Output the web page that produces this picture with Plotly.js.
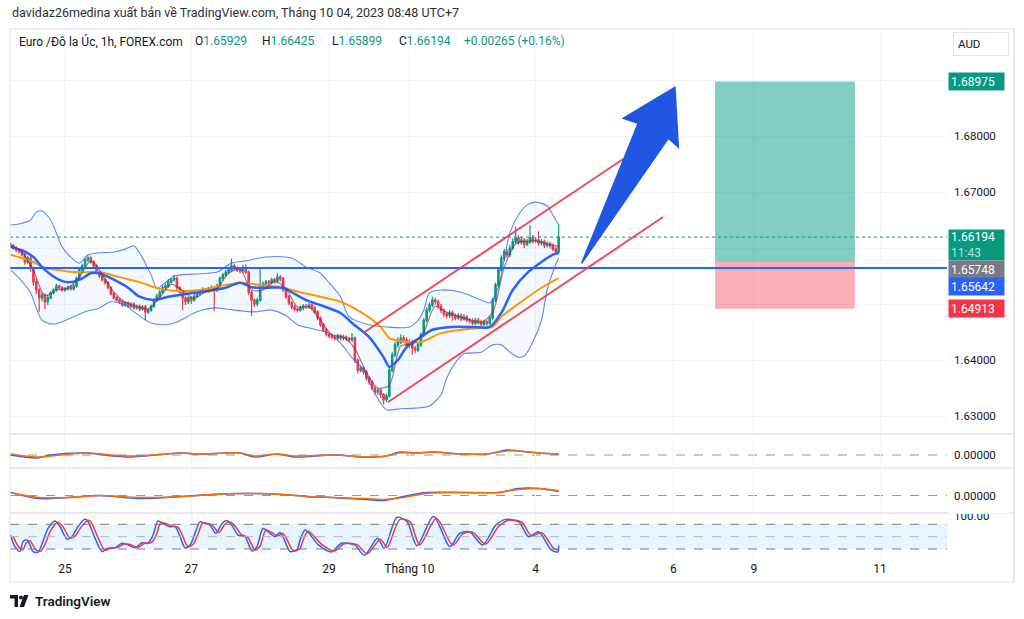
<!DOCTYPE html>
<html><head><meta charset="utf-8">
<script src="https://cdn.plot.ly/plotly-3.0.1.min.js"></script>
<style>html,body{margin:0;padding:0;background:#fff;}#chart{width:1024px;height:619px;}</style>
</head><body><div id="chart"></div>
<script>
// ---------- DATA (EUR/AUD 1h, FOREX.com) ----------
const tickIdx = [19, 63, 111, 139, 183, 231, 259, 303];
const tickText = ['25', '27', '29', 'Tháng 10', '4', '6', '9', '11'];
const priceTicks = [1.63, 1.64, 1.65, 1.66, 1.67, 1.68, 1.69];
const priceTickText = ['1.63000', '1.64000', '', '', '1.67000', '1.68000', ''];

const openP = [1.6607,1.6604,1.6600,1.6596,1.6593,1.6588,1.6575,1.6582,1.6564,1.6539,1.6525,1.6511,
1.6516,1.6504,1.6511,1.6520,1.6525,1.6532,1.6529,1.6525,1.6527,1.6530,1.6527,1.6532,
1.6546,1.6561,1.6568,1.6579,1.6582,1.6575,1.6568,1.6557,1.6550,1.6543,1.6538,1.6529,
1.6518,1.6511,1.6507,1.6504,1.6498,1.6502,1.6496,1.6500,1.6493,1.6496,1.6491,1.6495,
1.6486,1.6489,1.6496,1.6507,1.6514,1.6521,1.6529,1.6532,1.6539,1.6543,1.6546,1.6529,
1.6521,1.6511,1.6504,1.6511,1.6507,1.6514,1.6518,1.6521,1.6525,1.6523,1.6527,1.6529,
1.6525,1.6532,1.6546,1.6552,1.6557,1.6561,1.6568,1.6564,1.6561,1.6559,1.6564,1.6557,
1.6521,1.6507,1.6500,1.6507,1.6529,1.6536,1.6539,1.6538,1.6543,1.6541,1.6548,1.6545,
1.6525,1.6513,1.6502,1.6495,1.6491,1.6489,1.6493,1.6496,1.6495,1.6498,1.6493,1.6486,
1.6475,1.6463,1.6454,1.6446,1.6443,1.6441,1.6439,1.6443,1.6439,1.6441,1.6438,1.6436,
1.6439,1.6400,1.6382,1.6386,1.6379,1.6368,1.6361,1.6350,1.6343,1.6346,1.6338,1.6329,
1.6336,1.6382,1.6409,1.6427,1.6432,1.6439,1.6436,1.6427,1.6432,1.6421,1.6418,1.6427,
1.6445,1.6471,1.6489,1.6498,1.6507,1.6504,1.6496,1.6489,1.6482,1.6479,1.6484,1.6479,
1.6475,1.6479,1.6473,1.6477,1.6471,1.6470,1.6466,1.6471,1.6468,1.6464,1.6468,1.6466,
1.6475,1.6507,1.6534,1.6561,1.6582,1.6593,1.6588,1.6600,1.6611,1.6618,1.6611,1.6614,
1.6607,1.6611,1.6618,1.6613,1.6614,1.6609,1.6611,1.6605,1.6607,1.6604,1.6598,1.65929];

const highP = [1.6610,1.6607,1.6603,1.6599,1.6596,1.6591,1.6586,1.6585,1.6567,1.6545,1.6528,1.6520,
1.6519,1.6516,1.6523,1.6528,1.6536,1.6535,1.6532,1.6531,1.6533,1.6534,1.6536,1.6549,
1.6565,1.6572,1.6583,1.6587,1.6585,1.6578,1.6571,1.6560,1.6553,1.6546,1.6541,1.6532,
1.6521,1.6514,1.6510,1.6507,1.6505,1.6505,1.6503,1.6503,1.6499,1.6499,1.6498,1.6498,
1.6492,1.6499,1.6510,1.6518,1.6525,1.6533,1.6536,1.6545,1.6547,1.6552,1.6549,1.6532,
1.6524,1.6514,1.6514,1.6514,1.6518,1.6522,1.6525,1.6530,1.6528,1.6531,1.6533,1.6532,
1.6536,1.6549,1.6556,1.6561,1.6566,1.6581,1.6572,1.6567,1.6565,1.6570,1.6571,1.6560,
1.6524,1.6510,1.6511,1.6566,1.6540,1.6543,1.6543,1.6547,1.6547,1.6555,1.6552,1.6548,
1.6528,1.6516,1.6505,1.6498,1.6494,1.6497,1.6500,1.6500,1.6502,1.6501,1.6496,1.6489,
1.6478,1.6466,1.6457,1.6449,1.6447,1.6445,1.6447,1.6446,1.6445,1.6444,1.6441,1.6448,
1.6442,1.6403,1.6390,1.6389,1.6382,1.6371,1.6364,1.6353,1.6350,1.6349,1.6341,1.6340,
1.6386,1.6414,1.6432,1.6440,1.6446,1.6444,1.6440,1.6437,1.6436,1.6425,1.6431,1.6449,
1.6475,1.6494,1.6503,1.6513,1.6511,1.6508,1.6500,1.6492,1.6486,1.6489,1.6488,1.6483,
1.6484,1.6483,1.6482,1.6480,1.6475,1.6474,1.6475,1.6475,1.6472,1.6472,1.6471,1.6479,
1.6511,1.6538,1.6566,1.6587,1.6598,1.6598,1.6606,1.6617,1.6638,1.6623,1.6620,1.6618,
1.6616,1.6641,1.6623,1.6619,1.6630,1.6616,1.6615,1.6612,1.6611,1.6608,1.6602,1.66425];

const lowP = [1.6601,1.6597,1.6593,1.6590,1.6585,1.6570,1.6572,1.6558,1.6532,1.6518,1.6486,1.6505,
1.6490,1.6498,1.6508,1.6517,1.6522,1.6526,1.6522,1.6522,1.6524,1.6524,1.6524,1.6529,
1.6543,1.6558,1.6565,1.6575,1.6572,1.6565,1.6554,1.6547,1.6540,1.6535,1.6526,1.6515,
1.6508,1.6504,1.6500,1.6495,1.6495,1.6493,1.6493,1.6490,1.6490,1.6487,1.6488,1.6471,
1.6482,1.6486,1.6493,1.6504,1.6511,1.6518,1.6526,1.6529,1.6536,1.6540,1.6525,1.6515,
1.6489,1.6498,1.6500,1.6500,1.6504,1.6511,1.6515,1.6518,1.6520,1.6520,1.6524,1.6487,
1.6521,1.6529,1.6542,1.6548,1.6553,1.6558,1.6560,1.6557,1.6555,1.6556,1.6553,1.6516,
1.6478,1.6494,1.6496,1.6504,1.6525,1.6532,1.6534,1.6535,1.6537,1.6538,1.6541,1.6521,
1.6509,1.6498,1.6490,1.6487,1.6485,1.6486,1.6489,1.6491,1.6491,1.6489,1.6482,1.6471,
1.6459,1.6450,1.6442,1.6439,1.6437,1.6435,1.6435,1.6435,1.6435,1.6434,1.6432,1.6432,
1.6394,1.6376,1.6378,1.6374,1.6363,1.6356,1.6346,1.6338,1.6338,1.6332,1.6321,1.6325,
1.6333,1.6378,1.6405,1.6422,1.6428,1.6431,1.6422,1.6422,1.6410,1.6412,1.6414,1.6423,
1.6441,1.6467,1.6485,1.6494,1.6499,1.6492,1.6484,1.6477,1.6474,1.6475,1.6470,1.6471,
1.6472,1.6469,1.6470,1.6467,1.6465,1.6462,1.6462,1.6464,1.6460,1.6460,1.6461,1.6462,
1.6471,1.6503,1.6530,1.6557,1.6577,1.6583,1.6584,1.6596,1.6607,1.6606,1.6606,1.6600,
1.6603,1.6607,1.6608,1.6609,1.6604,1.6604,1.6600,1.6601,1.6599,1.6594,1.6588,1.65899];

const closeP = [1.6604,1.6600,1.6596,1.6593,1.6588,1.6575,1.6582,1.6564,1.6539,1.6525,1.6511,1.6516,
1.6504,1.6511,1.6520,1.6525,1.6532,1.6529,1.6525,1.6527,1.6530,1.6527,1.6532,1.6546,
1.6561,1.6568,1.6579,1.6582,1.6575,1.6568,1.6557,1.6550,1.6543,1.6538,1.6529,1.6518,
1.6511,1.6507,1.6504,1.6498,1.6502,1.6496,1.6500,1.6493,1.6496,1.6491,1.6495,1.6486,
1.6489,1.6496,1.6507,1.6514,1.6521,1.6529,1.6532,1.6539,1.6543,1.6546,1.6529,1.6521,
1.6511,1.6504,1.6511,1.6507,1.6514,1.6518,1.6521,1.6525,1.6523,1.6527,1.6529,1.6525,
1.6532,1.6546,1.6552,1.6557,1.6561,1.6568,1.6564,1.6561,1.6559,1.6564,1.6557,1.6521,
1.6507,1.6500,1.6507,1.6529,1.6536,1.6539,1.6538,1.6543,1.6541,1.6548,1.6545,1.6525,
1.6513,1.6502,1.6495,1.6491,1.6489,1.6493,1.6496,1.6495,1.6498,1.6493,1.6486,1.6475,
1.6463,1.6454,1.6446,1.6443,1.6441,1.6439,1.6443,1.6439,1.6441,1.6438,1.6436,1.6439,
1.6400,1.6382,1.6386,1.6379,1.6368,1.6361,1.6350,1.6343,1.6346,1.6338,1.6329,1.6336,
1.6382,1.6409,1.6427,1.6432,1.6439,1.6436,1.6427,1.6432,1.6421,1.6418,1.6427,1.6445,
1.6471,1.6489,1.6498,1.6507,1.6504,1.6496,1.6489,1.6482,1.6479,1.6484,1.6479,1.6475,
1.6479,1.6473,1.6477,1.6471,1.6470,1.6466,1.6471,1.6468,1.6464,1.6468,1.6466,1.6475,
1.6507,1.6534,1.6561,1.6582,1.6593,1.6588,1.6600,1.6611,1.6618,1.6611,1.6614,1.6607,
1.6611,1.6618,1.6613,1.6614,1.6609,1.6611,1.6605,1.6607,1.6604,1.6598,1.65929,1.66194];

// Bollinger Bands (bar index, price)
const bbUpperX = [0,3,7,9,11,14,16,18,21,24,27,30,36,40,43,45,49,51,54,57,66,72,77,82,89,98,103,108,111,115,118,125,131,139,142,144,146,150,157,164,167,170,172,174,177,180,183,187,189,191];
const bbUpperY = [1.6641,1.6643,1.6650,1.6664,1.6666,1.6650,1.6627,1.6602,1.6584,1.6573,1.6588,1.6591,1.6593,1.6598,1.6604,1.6591,1.6552,1.6529,1.6538,1.6550,1.6554,1.6557,1.6573,1.6577,1.6584,1.6582,1.6566,1.6555,1.6538,1.6513,1.6477,1.6463,1.6459,1.6459,1.6471,1.6489,1.6520,1.6525,1.6521,1.6507,1.6502,1.6530,1.6579,1.6627,1.6659,1.6677,1.6682,1.6675,1.6659,1.6641];
const bbLowerX = [0,3,7,9,11,15,21,26,31,35,40,43,49,54,58,65,71,78,85,91,96,100,106,111,115,119,123,126,129,131,136,141,146,150,152,155,158,164,168,171,174,177,179,182,185,187,190,191];
const bbLowerY = [1.6561,1.6546,1.6520,1.6493,1.6471,1.6464,1.6475,1.6486,1.6493,1.6504,1.6498,1.6486,1.6466,1.6463,1.6468,1.6486,1.6493,1.6489,1.6486,1.6489,1.6479,1.6463,1.6455,1.6448,1.6430,1.6404,1.6382,1.6350,1.6323,1.6311,1.6313,1.6314,1.6318,1.6338,1.6368,1.6395,1.6411,1.6414,1.6427,1.6427,1.6414,1.6405,1.6407,1.6432,1.6471,1.6525,1.6571,1.6582];
const basisX = [0,4,8,11,16,20,24,28,31,35,41,45,50,55,59,64,71,75,80,84,89,95,98,103,108,115,119,125,130,132,135,138,143,147,154,161,167,171,175,180,185,189,191];
const basisY = [1.6602,1.6596,1.6584,1.6566,1.6546,1.6539,1.6543,1.6555,1.6555,1.6546,1.6529,1.6513,1.6507,1.6513,1.6516,1.6520,1.6525,1.6529,1.6538,1.6530,1.6529,1.6529,1.6521,1.6507,1.6498,1.6484,1.6466,1.6441,1.6405,1.6388,1.6400,1.6423,1.6441,1.6454,1.6459,1.6459,1.6459,1.6484,1.6525,1.6555,1.6575,1.6588,1.6591];
// Slow moving average (orange)
const slowX = [0,4,8,11,16,22,28,31,38,45,52,59,66,73,80,87,94,101,108,115,122,129,132,136,143,150,157,164,168,171,178,185,191];
const slowY = [1.6588,1.6582,1.6575,1.6566,1.6561,1.6557,1.6557,1.6557,1.6548,1.6539,1.6527,1.6523,1.6525,1.6532,1.6538,1.6534,1.6530,1.6521,1.6513,1.6504,1.6486,1.6459,1.6439,1.6434,1.6432,1.6448,1.6454,1.6457,1.6459,1.6477,1.6504,1.6529,1.6546];
// Fast moving average (dark red)
const fastX = [0,4,8,12,16,20,24,28,32,36,40,44,48,52,56,60,64,68,72,76,80,84,88,92,96,100,104,108,112,116,120,124,128,132,136,140,144,148,152,156,160,164,168,172,176,180,184,188,191];
const fastY = [1.6605,1.6593,1.6560,1.6515,1.6525,1.6528,1.6548,1.6577,1.6553,1.6521,1.6503,1.6496,1.6491,1.6512,1.6535,1.6524,1.6510,1.6522,1.6528,1.6555,1.6562,1.6525,1.6525,1.6540,1.6527,1.6495,1.6495,1.6472,1.6445,1.6441,1.6420,1.6378,1.6350,1.6355,1.6425,1.6428,1.6450,1.6496,1.6485,1.6478,1.6472,1.6467,1.6485,1.6565,1.6607,1.6612,1.6612,1.6606,1.6603];

// Pane 2 oscillator
const osc1X = [0,9,14,26,36,41,54,59,66,80,85,93,99,113,123,131,135.5,142,147,157,166,173,177,184,191];
const osc1A = [0,-0.0003,0,0.0002,-0.0001,-0.0002,0.0001,0.0002,0.0001,0.0002,-0.0002,0.0001,-0.0002,0,-0.0002,-0.0001,0.0003,0.0002,0.0003,0.0001,0.0001,0.0005,0.0004,0.0002,0.0001];
const osc1B = [0.0001,-0.0002,-0.0001,0.0002,0,-0.0001,0.0001,0.0002,0.0001,0.0002,-0.0001,0.0001,-0.0001,0,-0.0002,-0.0001,0.0002,0.0002,0.0003,0.0001,0.0001,0.0004,0.0004,0.0002,0.0001];
// Pane 3 oscillator
const osc2X = [0,10,20,31,45,60,70,81,95,103,112,124,130,137,145,157,170,177,184,191];
const osc2A = [0.0003,-0.0003,-0.0002,0,-0.0003,-0.0001,0.0001,0.0002,0.0001,-0.0001,-0.0002,-0.0004,-0.0005,-0.0001,0.0003,0.0003,0.0003,0.0007,0.0007,0.0004];
const osc2B = [0.0003,-0.0002,-0.0002,0,-0.0002,-0.0001,0.0001,0.0002,0.0001,-0.0001,-0.0002,-0.0003,-0.0004,-0.0002,0.0002,0.0003,0.0003,0.0006,0.0007,0.0005];
// Stochastic RSI
const stochKX = [0,1.6,3.3,4.4,5.8,6.8,7.8,9.6,11.3,13.1,15.5,17.3,19.7,21.4,23.5,26,27,29.5,31.9,34,36.4,38.9,41,43.4,45.8,47.9,49.7,51.4,53.1,55.6,57.3,59.1,60.8,62.6,64.3,66,67.8,69.5,71.6,73.7,75.4,77.5,79.3,81.7,84.2,85.9,88,90.4,92.2,93.9,95.7,97.4,99.8,100.9,102.7,107.3,111.9,115.3,119.9,123.3,127.9,130.2,134.7,138.2,141.6,147.4,153.1,156.5,160,164.5,169.1,172.5,177.1,180.5,184,188.5,190.8,191];
const stochK = [54,25,14,38,42,30,14,12,38,70,88,74,44,50,74,93,87,46,14,22,23,34,30,23,35,34,54,88,82,74,75,50,23,30,58,86,82,78,58,82,89,74,54,50,15,26,70,58,50,60,38,14,18,42,66,30,13,34,30,5,46,22,97,86,28,99,26,58,62,30,78,92,86,50,62,17,13,28];
const stochDX = [1,2.6,4.3,5.4,6.8,7.8,8.8,10.6,12.3,14.1,16.5,18.3,20.7,22.4,24.5,27,28,30.5,32.9,35,37.4,39.9,42,44.4,46.8,48.9,50.7,52.4,54.1,56.6,58.3,60.1,61.8,63.6,65.3,67,68.8,70.5,72.6,74.7,76.4,78.5,80.3,82.7,85.2,86.9,89,91.4,93.2,94.9,96.7,98.4,100.8,101.9,103.7,108.3,112.9,116.3,120.9,124.3,128.9,131.2,135.7,139.2,142.6,148.4,154.1,157.5,161,165.5,170.1,173.5,178.1,181.5,185,189.5,191];
const stochD = [50,28,18,34,40,30,18,15,36,66,85,74,47,51,72,90,86,48,17,22,24,33,30,24,34,35,52,84,82,75,73,50,26,31,56,83,82,77,60,80,86,74,56,48,18,26,66,58,52,58,38,17,20,40,63,32,15,33,30,8,44,24,92,86,30,95,29,56,61,32,75,90,85,52,60,20,18];

// Drawings (bar index, price)
const lastPrice = 1.66194, hLine = 1.65642;
const posEntry = 1.65748, posTarget = 1.68975, posStop = 1.64913, posX = [245.5, 294.2];
const chanUpper = [[122.9, 1.64482], [213.5, 1.67589]];
const chanLower = [[131.6, 1.63250], [227.4, 1.66554]];
const arrowPts = [[199.0,1.65727],[218.7,1.68227],[213.5,1.68316],[231.5,1.68870],[232.7,1.67798],[229.2,1.67959]];

// ---------- LAYOUT GEOMETRY ----------
const W = 1024, H = 619, ML = 10, MR = 77, MT = 29, MB = 59;
const PW = W - ML - MR, PH = H - MT - MB;
const px = x => (x - ML) / PW;
const py = y => (H - MB - y) / PH;
const FONT = 'Roboto, "Noto Sans", sans-serif';
const TXT = '#131722';
const idx = closeP.map((_, i) => i);

const line = (x, y, color, width, yaxis, extra) => Object.assign({
  type: 'scatter', mode: 'lines', x: x, y: y, yaxis: yaxis || 'y',
  line: {color: color, width: width, shape: 'spline', smoothing: 0.8},
  hoverinfo: 'skip', showlegend: false
}, extra || {});

const traces = [
  line(bbUpperX, bbUpperY, 'rgba(41,98,255,0.75)', 1.1),
  line(bbLowerX, bbLowerY, 'rgba(41,98,255,0.75)', 1.1, 'y', {fill: 'tonexty', fillcolor: 'rgba(33,150,243,0.055)'}),
  line(slowX, slowY, '#ff9800', 2),
  line(basisX, basisY, '#2962ff', 2.5),
  {
    type: 'candlestick', x: idx, open: openP, high: highP, low: lowP, close: closeP,
    increasing: {line: {color: '#089981', width: 1.2}, fillcolor: '#089981'},
    decreasing: {line: {color: '#f23645', width: 1.2}, fillcolor: '#f23645'},
    whiskerwidth: 0, hoverinfo: 'skip', showlegend: false
  },
  line(fastX, fastY, 'rgba(140,30,40,0.6)', 1.2),
  line(osc1X, osc1A, '#2962ff', 1.5, 'y2'),
  line(osc1X, osc1B, '#ff6d00', 1.5, 'y2'),
  line(osc2X, osc2A, '#2962ff', 1.5, 'y3'),
  line(osc2X, osc2B, '#ff6d00', 1.5, 'y3'),
  line(stochKX, stochK, '#2962ff', 1.5, 'y4'),
  line(stochDX, stochD, '#f23645', 1.5, 'y4')
];

const frame = '#e0e3eb';
const shapes = [
  {type: 'rect', xref: 'paper', yref: 'y4', x0: 0, x1: 1, y0: 20, y1: 80, fillcolor: 'rgba(33,150,243,0.1)', line: {width: 0}, layer: 'below'},
  {type: 'line', xref: 'paper', yref: 'y4', x0: 0, x1: 1, y0: 80, y1: 80, line: {color: '#787b86', width: 1, dash: 'dash'}},
  {type: 'line', xref: 'paper', yref: 'y4', x0: 0, x1: 1, y0: 50, y1: 50, line: {color: '#b2b5be', width: 1, dash: 'dash'}},
  {type: 'line', xref: 'paper', yref: 'y4', x0: 0, x1: 1, y0: 20, y1: 20, line: {color: '#787b86', width: 1, dash: 'dash'}},
  {type: 'line', xref: 'paper', yref: 'y2', x0: 0, x1: 1, y0: 0, y1: 0, line: {color: '#9598a1', width: 1, dash: 'dash'}, layer: 'below'},
  {type: 'line', xref: 'paper', yref: 'y3', x0: 0, x1: 1, y0: 0, y1: 0, line: {color: '#9598a1', width: 1, dash: 'dash'}, layer: 'below'},
  {type: 'rect', xref: 'x', yref: 'y', x0: posX[0], x1: posX[1], y0: posEntry, y1: posTarget, fillcolor: 'rgba(8,153,129,0.5)', line: {width: 0}},
  {type: 'rect', xref: 'x', yref: 'y', x0: posX[0], x1: posX[1], y0: posStop, y1: posEntry, fillcolor: 'rgba(242,54,69,0.4)', line: {width: 0}},
  {type: 'line', xref: 'paper', yref: 'y', x0: 0, x1: 1, y0: lastPrice, y1: lastPrice, line: {color: '#089981', width: 1, dash: 'dot'}},
  {type: 'line', xref: 'paper', yref: 'y', x0: 0, x1: 1, y0: hLine, y1: hLine, line: {color: '#2962ff', width: 2}},
  {type: 'line', xref: 'x', yref: 'y', x0: chanUpper[0][0], y0: chanUpper[0][1], x1: chanUpper[1][0], y1: chanUpper[1][1], line: {color: 'rgba(242,54,69,0.9)', width: 2}},
  {type: 'line', xref: 'x', yref: 'y', x0: chanLower[0][0], y0: chanLower[0][1], x1: chanLower[1][0], y1: chanLower[1][1], line: {color: 'rgba(242,54,69,0.9)', width: 2}},
  {type: 'path', xref: 'x', yref: 'y', path: 'M ' + arrowPts.map(p => p[0] + ',' + p[1]).join(' L ') + ' Z', fillcolor: '#2156e3', line: {color: '#2156e3', width: 1.5}},
  {type: 'line', xref: 'paper', yref: 'paper', x0: px(10), x1: px(1014), y0: py(29), y1: py(29), line: {color: frame, width: 1}},
  {type: 'line', xref: 'paper', yref: 'paper', x0: px(10), x1: px(1014), y0: py(434), y1: py(434), line: {color: frame, width: 1.5}},
  {type: 'line', xref: 'paper', yref: 'paper', x0: px(10), x1: px(1014), y0: py(468), y1: py(468), line: {color: frame, width: 1.5}},
  {type: 'line', xref: 'paper', yref: 'paper', x0: px(10), x1: px(1014), y0: py(513), y1: py(513), line: {color: frame, width: 1.5}},
  {type: 'line', xref: 'paper', yref: 'paper', x0: px(10), x1: px(1014), y0: py(582), y1: py(582), line: {color: frame, width: 1}},
  {type: 'line', xref: 'paper', yref: 'paper', x0: px(10), x1: px(10), y0: py(29), y1: py(582), line: {color: frame, width: 1}},
  {type: 'line', xref: 'paper', yref: 'paper', x0: px(1014), x1: px(1014), y0: py(29), y1: py(582), line: {color: frame, width: 1.5}},
  {type: 'path', xref: 'paper', yref: 'paper', path: `M ${px(10)},${py(595)} L ${px(18)},${py(595)} L ${px(18)},${py(607)} L ${px(14.5)},${py(607)} L ${px(14.5)},${py(598.5)} L ${px(10)},${py(598.5)} Z`, fillcolor: TXT, line: {width: 0}},
  {type: 'circle', xref: 'paper', yref: 'paper', x0: px(19), x1: px(23), y0: py(599.5), y1: py(595.5), fillcolor: TXT, line: {width: 0}},
  {type: 'path', xref: 'paper', yref: 'paper', path: `M ${px(19.5)},${py(607)} L ${px(24)},${py(595)} L ${px(28.5)},${py(595)} L ${px(24)},${py(607)} Z`, fillcolor: TXT, line: {width: 0}}
];

const green = '#089981';
const priceLabel = (val, txt, bg, shift, h) => ({
  xref: 'paper', yref: 'y', x: px(948), y: val, xanchor: 'left', yanchor: 'middle', yshift: shift,
  text: txt, showarrow: false, bgcolor: bg, borderpad: 2, width: 51, height: h || 13, align: 'left',
  font: {family: FONT, size: 12, color: '#ffffff'}
});
const textAt = (x, y, txt, size, color, extra) => Object.assign({
  xref: 'paper', yref: 'paper', x: px(x), y: py(y), xanchor: 'left', yanchor: 'middle',
  text: txt, showarrow: false, font: {family: FONT, size: size, color: color}
}, extra || {});
const g = v => `<span style="color:${green}">${v}</span>`;

const annotations = [
  textAt(10, 13, 'davidaz26medina xuất bản về TradingView.com, Tháng 10 04, 2023 08:48 UTC+7', 12.5, '#2a2e39'),
  textAt(17, 41, 'Euro /Đô la Úc, 1h, FOREX.com', 12, TXT),
  textAt(193, 41, 'O' + g('1.65929'), 12, TXT),
  textAt(260, 41, 'H' + g('1.66425'), 12, TXT),
  textAt(330, 41, 'L' + g('1.65899'), 12, TXT),
  textAt(397, 41, 'C' + g('1.66194'), 12, TXT),
  textAt(462, 41, '+0.00265 (+0.16%)', 12, green),
  textAt(953, 44, 'AUD', 11.5, TXT, {width: 46, height: 14, borderpad: 4, bordercolor: frame, borderwidth: 1, align: 'left'}),
  textAt(33, 601, 'TradingView', 13.5, TXT, {font: {family: FONT, size: 13.5, color: TXT, weight: 600}}),
  priceLabel(posTarget, '1.68975', green, 0),
  priceLabel(lastPrice, '1.66194<br><span style="color:rgba(255,255,255,0.72)">11:43</span>', green, -8, 26),
  priceLabel(posEntry, '1.65748', '#787b86', -7),
  priceLabel(hLine, '1.65642', '#2962ff', -18),
  priceLabel(posStop, '1.64913', '#f23645', 0),
  {xref: 'paper', yref: 'paper', x: px(948), y: py(508.5), xanchor: 'left', yanchor: 'middle', text: ' ', showarrow: false, bgcolor: '#ffffff', width: 60, height: 8, borderpad: 0}
];

const axBase = {side: 'right', anchor: 'x', ticks: '', zeroline: false, showline: false, fixedrange: true,
  tickfont: {family: FONT, size: 11.5, color: TXT}, ticklabelstandoff: 6};

const layout = {
  width: W, height: H, margin: {l: ML, r: MR, t: MT, b: MB},
  paper_bgcolor: '#ffffff', plot_bgcolor: '#ffffff', showlegend: false, hovermode: false,
  font: {family: FONT, color: TXT},
  xaxis: {domain: [0, 1], anchor: 'y4', range: [-0.16, 326.3], tickvals: tickIdx, ticktext: tickText,
    showgrid: true, gridcolor: '#f0f3fa', zeroline: false, ticks: '', showline: false,
    tickfont: {family: FONT, size: 12, color: TXT}, rangeslider: {visible: false}, fixedrange: true},
  yaxis: Object.assign({}, axBase, {domain: [py(434), 1], range: [1.626786, 1.699107],
    tickvals: priceTicks, ticktext: priceTickText, showgrid: true, gridcolor: '#f0f3fa'}),
  yaxis2: Object.assign({}, axBase, {domain: [py(468), py(434)], range: [-0.0013, 0.0021], tickvals: [0], tickformat: '.5f', showgrid: false}),
  yaxis3: Object.assign({}, axBase, {domain: [py(513), py(468)], range: [-0.00175, 0.00275], tickvals: [0], tickformat: '.5f', showgrid: false}),
  yaxis4: Object.assign({}, axBase, {domain: [0, py(513)], range: [-6.7, 107.5], tickvals: [100], ticktext: ['100.00'], showgrid: false}),
  shapes: shapes,
  annotations: annotations
};

Plotly.newPlot('chart', traces, layout, {displayModeBar: false, staticPlot: true});
</script></body></html>
